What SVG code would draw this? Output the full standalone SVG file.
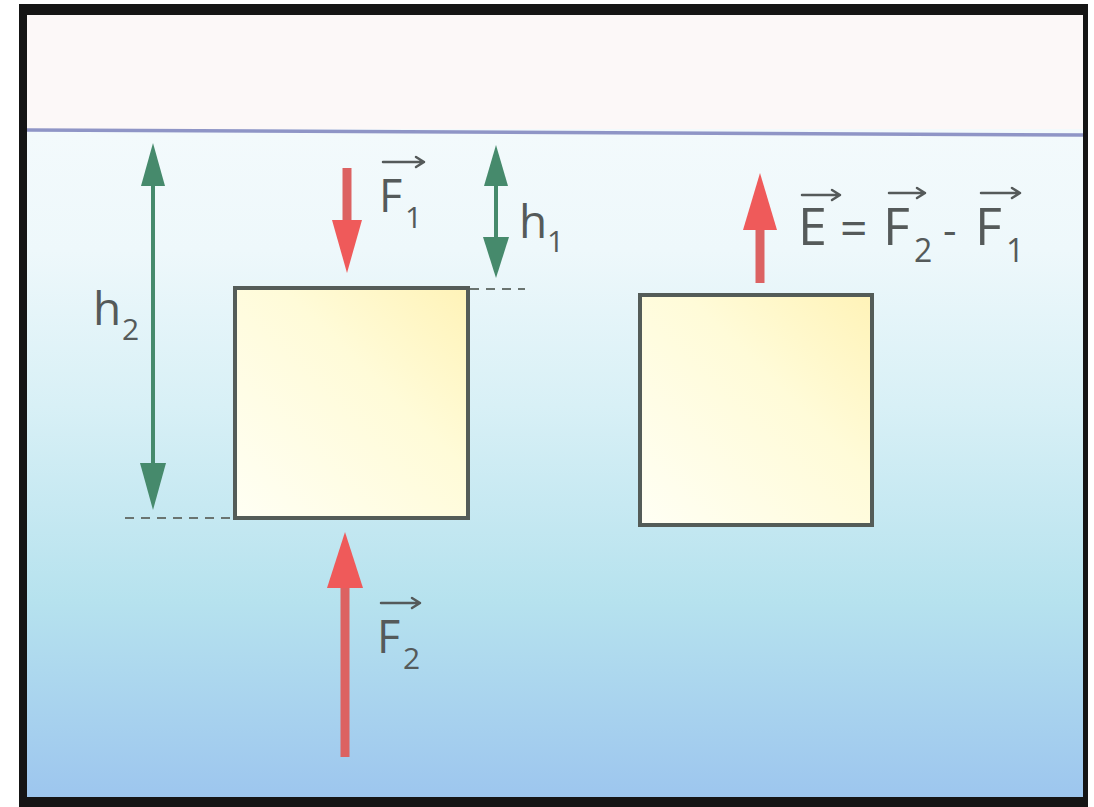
<svg xmlns="http://www.w3.org/2000/svg" width="1094" height="807" viewBox="0 0 1094 807">
<defs>
<linearGradient id="water" x1="0" y1="0" x2="0" y2="1">
<stop offset="0" stop-color="#f8fcfd"/>
<stop offset="0.3" stop-color="#eef8fb"/>
<stop offset="0.5" stop-color="#d8f0f6"/>
<stop offset="0.75" stop-color="#b6e2ee"/>
<stop offset="1" stop-color="#9dc6ee"/>
</linearGradient>
<linearGradient id="boxfill" x1="0" y1="1" x2="1" y2="0">
<stop offset="0" stop-color="#fffff4"/>
<stop offset="0.6" stop-color="#fffbd8"/>
<stop offset="1" stop-color="#fff3b8"/>
</linearGradient>
<style>
.box{fill:url(#boxfill);stroke:#545c58;stroke-width:4}
.dash{stroke:#6a7470;stroke-width:2;stroke-dasharray:9 7;fill:none}
.green{stroke:#468a6c;stroke-width:4;fill:none}
.ghead{fill:#468a6c}
.redshaft{stroke:#dc6262;stroke-width:9;fill:none}
.rhead{fill:#ef5a5a}
.lbl{font-family:"Open Sans","Noto Sans",sans-serif;fill:#555a5a}
.vec{stroke:#555a5a;stroke-width:2.5;fill:none;stroke-linecap:round;stroke-linejoin:round}
</style>
</defs>
<rect x="0" y="0" width="1094" height="807" fill="#ffffff"/>
<rect x="19" y="4" width="1069" height="803" fill="#151515"/>
<rect x="27" y="15" width="1056" height="782" fill="url(#water)"/>
<rect x="27" y="15" width="1056" height="114" fill="#fcf8f8"/>
<line x1="27" y1="130" x2="1083" y2="135" stroke="#8f95c6" stroke-width="3.5"/>

<g id="block1">
<rect class="box" x="235" y="288" width="233" height="230"/>
</g>
<g id="block2">
<rect class="box" x="640" y="295" width="232" height="230"/>
</g>

<g id="connectors">
<line class="dash" x1="470" y1="289" x2="525" y2="289"/>
<line class="dash" x1="125" y1="518" x2="233" y2="518"/>
<line class="green" x1="153" y1="170" x2="153" y2="480"/>
<polygon class="ghead" points="153,143 141,186 165,186"/>
<polygon class="ghead" points="153,510 140,463 166,463"/>
<line class="green" x1="496" y1="170" x2="496" y2="250"/>
<polygon class="ghead" points="496,145 484,186 508,186"/>
<polygon class="ghead" points="496,278 483,237 509,237"/>
<line class="redshaft" x1="347" y1="168" x2="347" y2="225"/>
<polygon class="rhead" points="347,273 332,220 362,220"/>
<line class="redshaft" x1="345" y1="580" x2="345" y2="757"/>
<polygon class="rhead" points="345,532 327,588 363,588"/>
<line class="redshaft" x1="760" y1="222" x2="760" y2="283"/>
<polygon class="rhead" points="760,173 743,230 777,230"/>
</g>

<g id="label-F1">
<text class="lbl" x="379" y="212" font-size="45">F<tspan x="405" y="228" font-size="30">1</tspan></text>
<path class="vec" d="M383 162 H424 M416 157 L424 162 L416 167"/>
</g>
<g id="label-h1">
<text class="lbl" x="519" y="238" font-size="46">h<tspan x="547" y="252" font-size="30">1</tspan></text>
</g>
<g id="label-h2">
<text class="lbl" x="93" y="325" font-size="46">h<tspan x="122" y="340" font-size="30">2</tspan></text>
</g>
<g id="label-F2">
<text class="lbl" x="377" y="653" font-size="45">F<tspan x="403" y="669" font-size="30">2</tspan></text>
<path class="vec" d="M381 603 H420 M412 598 L420 603 L412 608"/>
</g>
<g id="label-E">
<text class="lbl" x="798" y="245" font-size="52">E<tspan x="840" y="245" font-size="48">=</tspan><tspan x="883" y="245">F</tspan><tspan x="914" y="262" font-size="32">2</tspan><tspan x="943" y="245" font-size="42">-</tspan><tspan x="975" y="245">F</tspan><tspan x="1006" y="262" font-size="32">1</tspan></text>
<path class="vec" d="M802 195 H840 M832 190 L840 195 L832 200"/>
<path class="vec" d="M889 193 H925 M917 188 L925 193 L917 198"/>
<path class="vec" d="M981 193 H1020 M1012 188 L1020 193 L1012 198"/>
</g>
</svg>
